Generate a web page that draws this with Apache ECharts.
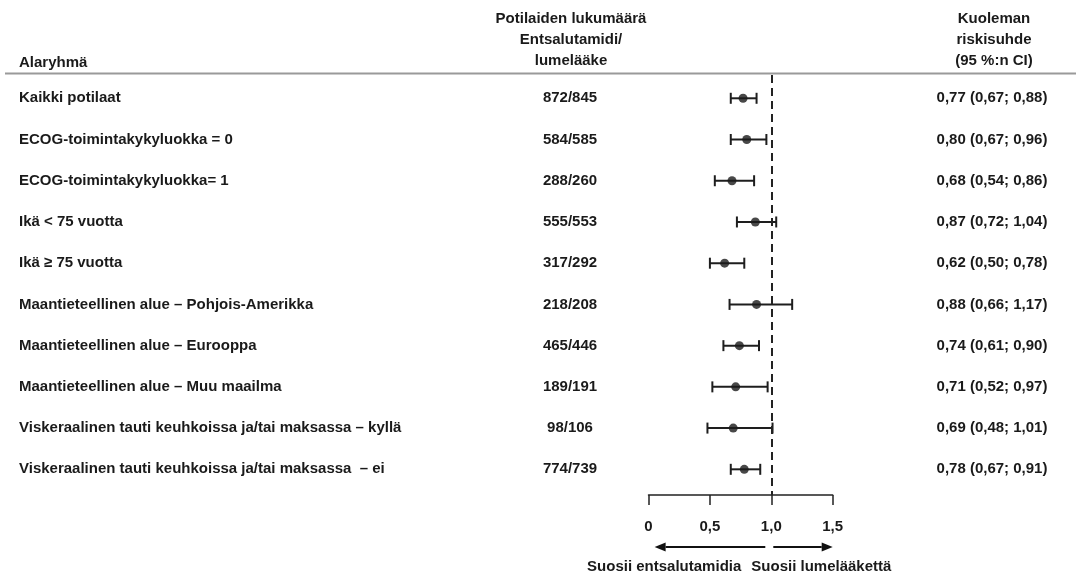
<!DOCTYPE html>
<html>
<head>
<meta charset="utf-8">
<script src="https://cdn.jsdelivr.net/npm/echarts@6/dist/echarts.min.js"></script>
<style>
  html, body { margin: 0; padding: 0; background: #ffffff; }
  #chart { width: 1081px; height: 576px; }
</style>
</head>
<body>
<div id="chart"></div>
<script>
// Subgroups, patient counts (enzalutamide / placebo) and hazard ratios with 95 % CI
const subgroups = [
  'Kaikki potilaat',
  'ECOG-toimintakykyluokka = 0',
  'ECOG-toimintakykyluokka= 1',
  'Ikä < 75 vuotta',
  'Ikä ≥ 75 vuotta',
  'Maantieteellinen alue – Pohjois-Amerikka',
  'Maantieteellinen alue – Eurooppa',
  'Maantieteellinen alue – Muu maailma',
  'Viskeraalinen tauti keuhkoissa ja/tai maksassa – kyllä',
  'Viskeraalinen tauti keuhkoissa ja/tai maksassa  – ei'
];
const patientCounts = [
  '872/845', '584/585', '288/260', '555/553', '317/292',
  '218/208', '465/446', '189/191', '98/106', '774/739'
];
const hazardRatio = [0.77, 0.80, 0.68, 0.87, 0.62, 0.88, 0.74, 0.71, 0.69, 0.78];
const ciLower     = [0.67, 0.67, 0.54, 0.72, 0.50, 0.66, 0.61, 0.52, 0.48, 0.67];
const ciUpper     = [0.88, 0.96, 0.86, 1.04, 0.78, 1.17, 0.90, 0.97, 1.01, 0.91];
const xTickValues = [0, 0.5, 1.0, 1.5];

const FONT = '"Liberation Sans", Arial, sans-serif';
const INK = '#1a1a1a';

function fmt(v) {
  return v.toFixed(2).replace('.', ',');
}
function hrLabel(i) {
  return fmt(hazardRatio[i]) + ' (' + fmt(ciLower[i]) + '; ' + fmt(ciUpper[i]) + ')';
}

const rowIndex = subgroups.map((_, i) => i);
const ciData = rowIndex.map(i => [ciLower[i], ciUpper[i], i]);
const pointData = rowIndex.map(i => [hazardRatio[i], i]);
const textData = rowIndex.map(i => [0, i]);

const chart = echarts.init(document.getElementById('chart'), null, { renderer: 'canvas' });

function headerText(x, y, text, align) {
  return {
    type: 'text', x: x, y: y, silent: true,
    style: {
      text: text, fill: INK, font: 'bold 15px ' + FONT,
      textAlign: align, textVerticalAlign: 'middle'
    }
  };
}

const option = {
  animation: false,
  backgroundColor: '#ffffff',
  grid: { left: 648.5, right: 248.3, top: 75, bottom: 81, containLabel: false },
  xAxis: {
    type: 'value',
    position: 'bottom',
    min: 0, max: 1.5, interval: 0.5,
    axisLine: { show: true, onZero: false, lineStyle: { color: '#222', width: 1.5 } },
    axisTick: { show: true, inside: false, length: 10, lineStyle: { color: '#222', width: 1.5 } },
    splitLine: { show: false },
    axisLabel: {
      margin: 24,
      color: INK,
      fontFamily: FONT, fontWeight: 'bold', fontSize: 15,
      customValues: xTickValues,
      formatter: v => (v === 0 ? '0' : v.toFixed(1).replace('.', ','))
    }
  },
  yAxis: {
    type: 'value',
    inverse: true,
    min: -0.565, max: 9.623,
    show: false,
    splitLine: { show: false }
  },
  series: [
    {
      // confidence-interval whiskers with end caps
      type: 'custom',
      silent: true,
      data: ciData,
      renderItem: function (params, api) {
        const a = api.coord([api.value(0), api.value(2)]);
        const b = api.coord([api.value(1), api.value(2)]);
        const cap = 5.5;
        const st = { stroke: '#1e1e1e', lineWidth: 2 };
        return {
          type: 'group',
          children: [
            { type: 'line', shape: { x1: a[0], y1: a[1], x2: b[0], y2: b[1] }, style: st },
            { type: 'line', shape: { x1: a[0], y1: a[1] - cap, x2: a[0], y2: a[1] + cap }, style: st },
            { type: 'line', shape: { x1: b[0], y1: b[1] - cap, x2: b[0], y2: b[1] + cap }, style: st }
          ]
        };
      }
    },
    {
      // hazard-ratio point estimates
      type: 'scatter',
      silent: true,
      data: pointData,
      symbol: 'circle',
      symbolSize: 9,
      itemStyle: { color: INK },
      z: 3,
      markLine: {
        silent: true,
        symbol: 'none',
        label: { show: false },
        lineStyle: { color: '#222', width: 2, type: [8, 5] },
        data: [{ xAxis: 1 }]
      }
    },
    {
      // table columns: subgroup, patient counts, HR (95 % CI)
      type: 'custom',
      silent: true,
      data: textData,
      renderItem: function (params, api) {
        const i = api.value(1);
        const y = api.coord([0, i])[1];
        const base = { fill: INK, font: 'bold 15px ' + FONT, textVerticalAlign: 'middle' };
        return {
          type: 'group',
          children: [
            { type: 'text', x: 19, y: y, style: Object.assign({ text: subgroups[i], textAlign: 'left' }, base) },
            { type: 'text', x: 570, y: y, style: Object.assign({ text: patientCounts[i], textAlign: 'center' }, base) },
            { type: 'text', x: 992, y: y, style: Object.assign({ text: hrLabel(i), textAlign: 'center' }, base) }
          ]
        };
      }
    }
  ],
  graphic: []
};

chart.setOption(option);

// Header, rule under the header and the "favours" arrows below the axis
const px = v => chart.convertToPixel({ xAxisIndex: 0, yAxisIndex: 0 }, [v, 0])[0];
const arrowY = 547;
function arrow(x1, x2) {
  const dir = x2 > x1 ? 1 : -1;
  const head = 11, half = 4.5;
  return [
    { type: 'line', silent: true, shape: { x1: x1, y1: arrowY, x2: x2 - dir * head, y2: arrowY },
      style: { stroke: '#111', lineWidth: 2 } },
    { type: 'polygon', silent: true,
      shape: { points: [[x2, arrowY], [x2 - dir * head, arrowY - half], [x2 - dir * head, arrowY + half]] },
      style: { fill: '#111' } }
  ];
}
const x1 = px(1);

const graphics = [
  { type: 'line', silent: true, shape: { x1: 5, y1: 73.5, x2: 1076, y2: 73.5 },
    style: { stroke: '#9a9a9a', lineWidth: 2 } },
  headerText(19, 63, 'Alaryhmä', 'left'),
  headerText(571, 19, 'Potilaiden lukumäärä', 'center'),
  headerText(571, 40, 'Entsalutamidi/', 'center'),
  headerText(571, 61, 'lumelääke', 'center'),
  headerText(994, 19, 'Kuoleman', 'center'),
  headerText(994, 40, 'riskisuhde', 'center'),
  headerText(994, 61, '(95 %:n CI)', 'center'),
  ...arrow(x1 - 6, px(0.05)),
  ...arrow(x1 + 2, px(1.5)),
  { type: 'text', x: x1 - 30, y: 567, silent: true,
    style: { text: 'Suosii entsalutamidia', fill: INK, font: 'bold 15px ' + FONT,
             textAlign: 'right', textVerticalAlign: 'middle' } },
  { type: 'text', x: x1 - 20, y: 567, silent: true,
    style: { text: 'Suosii lumelääkettä', fill: INK, font: 'bold 15px ' + FONT,
             textAlign: 'left', textVerticalAlign: 'middle' } }
];

chart.setOption({ graphic: graphics });
</script>
</body>
</html>
